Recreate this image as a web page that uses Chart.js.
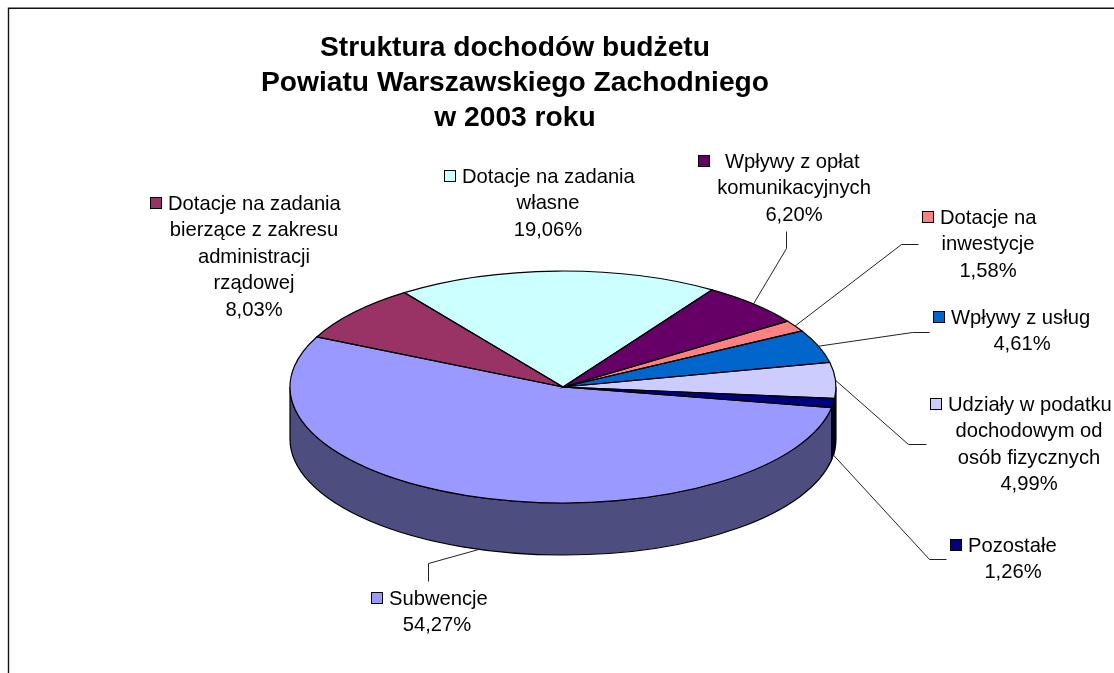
<!DOCTYPE html>
<html lang="pl">
<head>
<meta charset="utf-8">
<style>html,body{margin:0;padding:0;background:#fff}canvas{display:block}</style>
<script src="https://cdn.jsdelivr.net/npm/chart.js@4"></script>
</head>
<body>
<canvas id="c" width="1114" height="673"></canvas>
<script>
// ---- data ----
const titleLines = ['Struktura dochodów budżetu', 'Powiatu Warszawskiego Zachodniego', 'w 2003 roku'];
const categories = [
  ['Subwencje'],
  ['Dotacje na zadania', 'bierzące z zakresu', 'administracji', 'rządowej'],
  ['Dotacje na zadania', 'własne'],
  ['Wpływy z opłat', 'komunikacyjnych'],
  ['Dotacje na', 'inwestycje'],
  ['Wpływy z usług'],
  ['Udziały w podatku', 'dochodowym od', 'osób fizycznych'],
  ['Pozostałe']
];
const values = [54.27, 8.03, 19.06, 6.20, 1.58, 4.61, 4.99, 1.26];

// ---- styles ----
const topColors  = ['#9999FF', '#993366', '#CCFFFF', '#660066', '#FF8080', '#0066CC', '#CCCCFF', '#000080'];
const wallColors = ['#4D4D80', '#4D1A33', '#668080', '#330033', '#804040', '#003366', '#666680', '#000040'];

// ---- layout ----
const W = 1114, H = 673;
const pieLeft = 290, pieRight = 836, pieCy = 387, squash = 116 / 273, depth = 52;
const titleCx = 515, titleBase = [56, 91, 126], titleFont = 'bold 28.2px "Liberation Sans"';
const labelFont = '20.2px "Liberation Sans"', lineStep = 26.4, textDy = 1;
const markerX   = [371, 150, 444, 698, 922, 933, 930, 950];
const firstX    = [389, 168, 462, 725, 940, 951, 948, 968];
const centerX   = [437, 254, 548, 794, 988, 1022, 1029, 1013];
const firstBase = [604, 209, 182, 167, 223, 323, 410, 551];
const leaders = [
  [[428, 563], [428, 581]],
  null,
  null,
  [[786, 248], [786, 231]],
  [[901, 244], [918, 244]],
  [[912, 332], [929, 332]],
  [[908, 444], [926, 444]],
  [[929, 559], [946, 559]]
];

const pct = v => v.toFixed(2).replace('.', ',') + '%';

const pie3d = {
  id: 'pie3d',
  beforeDraw(chart) {
    const c = chart.ctx;
    c.save();
    c.strokeStyle = '#111';
    c.lineWidth = 1.4;
    c.beginPath();
    c.moveTo(W, 8.2); c.lineTo(8.5, 8.2); c.lineTo(8.5, H);
    c.stroke();
    c.restore();
  },
  beforeDatasetsDraw(chart) {
    const c = chart.ctx;
    const arcs = chart.getDatasetMeta(0).data;
    c.save();
    c.lineWidth = 1.2;
    c.strokeStyle = '#000';
    arcs.forEach((a, i) => {
      const ry = a.outerRadius * squash;
      [[0, Math.PI], [2 * Math.PI, 3 * Math.PI]].forEach(([lo, hi]) => {
        const s = Math.max(a.startAngle, lo), e = Math.min(a.endAngle, hi);
        if (e <= s) return;
        c.beginPath();
        c.ellipse(a.x, pieCy, a.outerRadius, ry, 0, s, e);
        c.ellipse(a.x, pieCy + depth, a.outerRadius, ry, 0, e, s, true);
        c.closePath();
        c.fillStyle = wallColors[i];
        c.fill();
        c.stroke();
      });
    });
    c.restore();
    c.save();
    c.translate(0, pieCy);
    c.scale(1, squash);
    c.translate(0, -pieCy);
  },
  afterDatasetsDraw(chart) {
    const c = chart.ctx;
    c.restore();
    const arcs = chart.getDatasetMeta(0).data;
    c.save();
    c.strokeStyle = '#000';
    c.lineWidth = 1.2;
    arcs.forEach(a => {
      c.beginPath();
      c.moveTo(a.x, pieCy);
      c.ellipse(a.x, pieCy, a.outerRadius, a.outerRadius * squash, 0, a.startAngle, a.endAngle);
      c.closePath();
      c.stroke();
    });
    // leader lines start on the rim at each slice's middle angle
    c.strokeStyle = '#222';
    c.lineWidth = 1;
    arcs.forEach((a, i) => {
      if (!leaders[i]) return;
      const m = (a.startAngle + a.endAngle) / 2;
      const sy = Math.sin(m);
      const x = a.x + a.outerRadius * Math.cos(m);
      const y = pieCy + a.outerRadius * squash * sy + (sy > 0 ? depth : 0);
      c.beginPath();
      c.moveTo(x, y);
      leaders[i].forEach(p => c.lineTo(p[0] + 0.5, p[1] + 0.5));
      c.stroke();
    });
    // title
    c.fillStyle = '#000';
    c.textBaseline = 'alphabetic';
    c.textAlign = 'center';
    c.font = titleFont;
    titleLines.forEach((t, i) => c.fillText(t, titleCx, titleBase[i]));
    // labels
    c.font = labelFont;
    categories.forEach((lines, i) => {
      const all = lines.concat(pct(values[i]));
      all.forEach((t, j) => {
        const y = firstBase[i] + textDy + j * lineStep;
        if (j === 0) { c.textAlign = 'left'; c.fillText(t, firstX[i], y); }
        else { c.textAlign = 'center'; c.fillText(t, centerX[i], y); }
      });
      c.fillStyle = topColors[i];
      c.fillRect(markerX[i] + 0.5, firstBase[i] - 11.5, 11, 11);
      c.strokeStyle = '#000';
      c.strokeRect(markerX[i] + 0.5, firstBase[i] - 11.5, 11, 11);
      c.fillStyle = '#000';
    });
    c.restore();
  }
};

new Chart(document.getElementById('c'), {
  type: 'pie',
  data: {
    labels: categories.map(l => l.join(' ')),
    datasets: [{ data: values, backgroundColor: topColors, borderWidth: 0 }]
  },
  options: {
    responsive: false,
    animation: false,
    rotation: 100.2,
    layout: { padding: { left: pieLeft, right: W - pieRight, top: pieCy - (pieRight - pieLeft) / 2, bottom: H - pieCy - (pieRight - pieLeft) / 2 } },
    plugins: { legend: { display: false }, tooltip: { enabled: false }, title: { display: false } }
  },
  plugins: [pie3d]
});
</script>
</body>
</html>
